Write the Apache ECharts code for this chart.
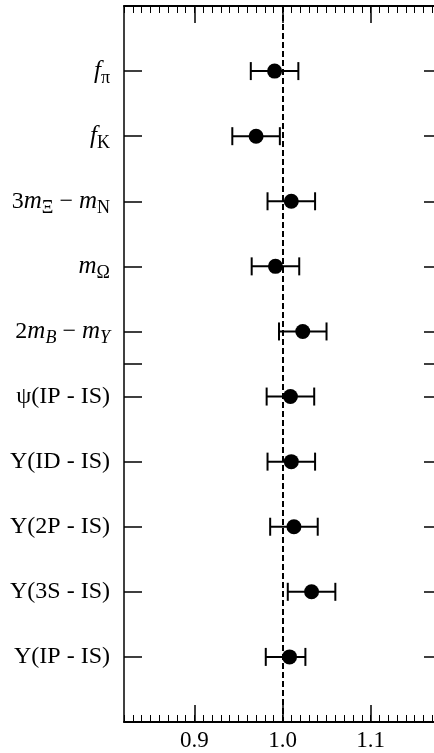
<!DOCTYPE html>
<html>
<head>
<meta charset="utf-8">
<script src="https://cdn.jsdelivr.net/npm/echarts@6/dist/echarts.min.js"></script>
<style>
  html, body { margin: 0; padding: 0; background: #fff; overflow: hidden; }
  /* the frame's right edge runs just past the window */
  #chart { width: 441px; height: 753px; }
</style>
</head>
<body>
<div id="chart"></div>
<script>
// Row labels (rich-text markup for the subscripted quantities)
const rowLabels = [
  '{i|f}{s|π}',
  '{i|f}{s|K}',
  '{r|3}{i|m}{s|Ξ}{r| − }{i|m}{s|N}',
  '{i|m}{s|Ω}',
  '{r|2}{i|m}{si|B}{r| − }{i|m}{si|Y}',
  '{r|ψ(IP - IS)}',
  '{r|Y(ID - IS)}',
  '{r|Y(2P - IS)}',
  '{r|Y(3S - IS)}',
  '{r|Y(IP - IS)}'
];
// Row positions on the vertical axis (5.5 is the group separator tick)
const rowPos = [1, 2, 3, 4, 5, 6, 7, 8, 9, 10];
const separatorPos = [5.5];

// Ratio values and their lower / upper uncertainties
const ratioValues = [0.991, 0.970, 1.010, 0.992, 1.023, 1.009, 1.010, 1.013, 1.033, 1.008];
const errLow  = [0.027, 0.027, 0.027, 0.027, 0.027, 0.027, 0.027, 0.027, 0.027, 0.027];
const errHigh = [0.027, 0.027, 0.027, 0.027, 0.027, 0.027, 0.027, 0.027, 0.027, 0.018];

// Horizontal axis
const xMin = 0.82, xMax = 1.18;
const xMajorTicks = [0.9, 1.0, 1.1];
const referenceValue = 1.0;

const serif = '"Liberation Serif", "DejaVu Serif", serif';
const black = '#000';

const pointData = ratioValues.map((v, i) => [v, rowPos[i]]);
const barData = ratioValues.map((v, i) => [v - errLow[i], v + errHigh[i], rowPos[i]]);

const richStyles = {
  r:  { fontFamily: serif, fontSize: 24, lineHeight: 32, color: black },
  i:  { fontFamily: serif, fontSize: 25, lineHeight: 32, fontStyle: 'italic', color: black },
  s:  { fontFamily: serif, fontSize: 18, lineHeight: 18, verticalAlign: 'bottom', color: black },
  si: { fontFamily: serif, fontSize: 18, lineHeight: 18, verticalAlign: 'bottom', fontStyle: 'italic', color: black }
};

function minorAxis(position) {
  return {
    type: 'value', position: position, min: xMin, max: xMax, interval: 0.01,
    axisLine: { show: true, onZero: false, lineStyle: { color: black, width: 2 } },
    axisTick: { show: true, inside: true, length: 7, lineStyle: { color: black, width: 1 } },
    axisLabel: { show: false },
    splitLine: { show: false }
  };
}
function majorAxis(position, showLabels) {
  return {
    type: 'value', position: position, min: xMin, max: xMax,
    axisLine: { show: false, onZero: false },
    axisTick: { show: true, inside: true, length: 17, customValues: xMajorTicks,
      lineStyle: { color: black, width: 1.5 } },
    axisLabel: { show: showLabels, customValues: xMajorTicks, margin: 7,
      fontFamily: serif, fontSize: 23, color: black,
      formatter: v => v.toFixed(1) },
    splitLine: { show: false }
  };
}

const chart = echarts.init(document.getElementById('chart'), null, { renderer: 'canvas' });
chart.setOption({
  backgroundColor: '#fff',
  animation: false,
  grid: { left: 124, right: 0, top: 6, bottom: 31, containLabel: false },
  xAxis: [
    minorAxis('bottom'),
    majorAxis('bottom', true),
    minorAxis('top'),
    majorAxis('top', false)
  ],
  yAxis: [
    {
      type: 'value', position: 'left', min: 0, max: 11, inverse: true,
      axisLine: { show: true, onZero: false, lineStyle: { color: black, width: 1.5 } },
      axisTick: { show: true, inside: true, length: 18,
        customValues: rowPos.concat(separatorPos),
        lineStyle: { color: black, width: 1.5 } },
      axisLabel: {
        show: true, customValues: rowPos, margin: 14,
        formatter: v => rowLabels[rowPos.indexOf(v)] || '',
        rich: richStyles
      },
      splitLine: { show: false }
    },
    {
      type: 'value', position: 'right', min: 0, max: 11, inverse: true,
      axisLine: { show: true, onZero: false, lineStyle: { color: black, width: 1.5 } },
      axisTick: { show: true, inside: true, length: 17,
        customValues: rowPos.concat(separatorPos),
        lineStyle: { color: black, width: 1.5 } },
      axisLabel: { show: false },
      splitLine: { show: false }
    }
  ],
  series: [
    {
      type: 'custom',
      xAxisIndex: 0, yAxisIndex: 0,
      data: barData,
      renderItem: function (params, api) {
        const lo = api.coord([api.value(0), api.value(2)]);
        const hi = api.coord([api.value(1), api.value(2)]);
        const cap = 9;
        const style = { stroke: black, lineWidth: 2 };
        return {
          type: 'group',
          children: [
            { type: 'line', shape: { x1: lo[0], y1: lo[1], x2: hi[0], y2: hi[1] }, style: style },
            { type: 'line', shape: { x1: lo[0], y1: lo[1] - cap, x2: lo[0], y2: lo[1] + cap }, style: style },
            { type: 'line', shape: { x1: hi[0], y1: hi[1] - cap, x2: hi[0], y2: hi[1] + cap }, style: style }
          ]
        };
      },
      z: 2
    },
    {
      type: 'scatter',
      xAxisIndex: 0, yAxisIndex: 0,
      data: pointData,
      symbol: 'circle',
      symbolSize: 15,
      itemStyle: { color: black, opacity: 1 },
      z: 3,
      markLine: {
        silent: true,
        symbol: 'none',
        label: { show: false },
        lineStyle: { color: black, width: 2, type: [6, 3], opacity: 1 },
        data: [{ xAxis: referenceValue }]
      }
    }
  ]
});
</script>
</body>
</html>
